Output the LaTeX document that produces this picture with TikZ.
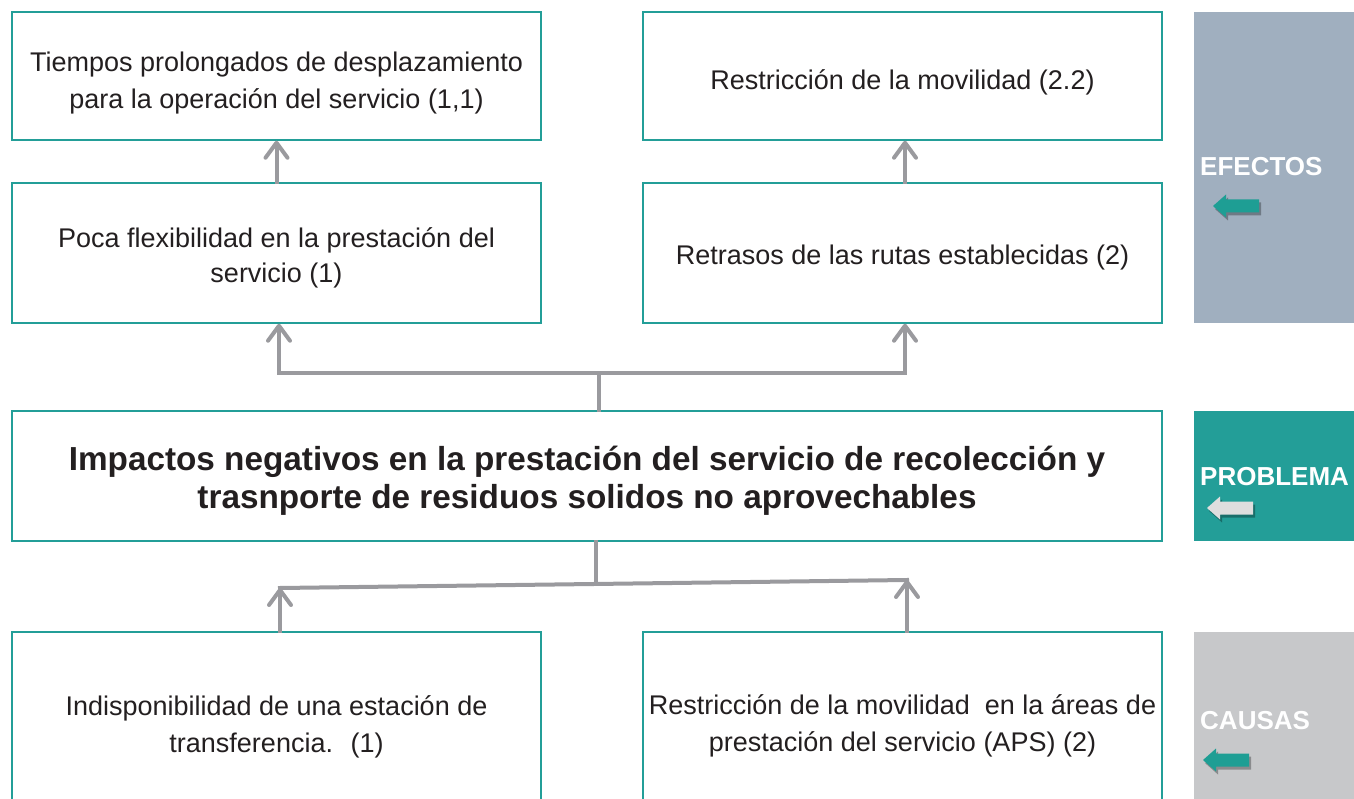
\documentclass[tikz,border=0pt]{standalone}
\usepackage{fontspec}
\setmainfont{Liberation Sans}
\usetikzlibrary{arrows.meta}
\definecolor{teal1}{RGB}{35,158,152}
\definecolor{efc}{RGB}{160,175,191}
\definecolor{cac}{RGB}{199,200,202}
\definecolor{conng}{RGB}{154,154,158}
\definecolor{txt}{RGB}{35,31,32}
\definecolor{arrteal}{RGB}{30,158,148}
\definecolor{arrgray}{RGB}{222,222,222}
\begin{document}
\begin{tikzpicture}[x=1pt,y=-1pt,
  box/.style={draw=teal1, line width=1.5pt, fill=white, inner sep=0pt},
  btext/.style={align=center, text=txt, inner sep=0pt,
    font=\fontsize{27}{37}\selectfont},
  conn/.style={draw=conng, line width=4pt, line cap=rect},
  tipup/.style={-{Straight Barb[length=15pt,width=22pt,round]}},
  side/.style={anchor=west, inner sep=0pt, text=white, font=\fontsize{26}{30}\selectfont\bfseries},
  larrow/.pic={
    \fill[black,opacity=0.3,shift={(2,3)}] (0,0) -- (13,-11.5) -- (13,-6.5) -- (46,-6.5) -- (46,6.5) -- (13,6.5) -- (13,11.5) -- cycle;
    \fill[pic actions] (0,0) -- (13,-11.5) -- (13,-6.5) -- (46,-6.5) -- (46,6.5) -- (13,6.5) -- (13,11.5) -- cycle;
  }]
\clip (0,0) rectangle (1354,799);
\fill[white] (0,0) rectangle (1354,799);

% side panels
\fill[efc] (1194,12) rectangle (1354,323);
\fill[teal1] (1194,411) rectangle (1354,541);
\fill[cac] (1194,632) rectangle (1354,799);
\node[side] (lef) at (1200,167) {EFECTOS};
\node[side] (lpb) at (1200,477) {PROBLEMA};
\node[side] (lca) at (1200,721) {CAUSAS};
\pic[fill=arrteal] at (1213,206) {larrow};
\pic[fill=arrgray] at (1207,508) {larrow};
\pic[fill=arrteal] at (1203,760) {larrow};

% boxes
\node[box, minimum width=529pt, minimum height=128pt] (tl) at (276.5,76) {};
\node[box, minimum width=519pt, minimum height=128pt] (tr) at (902.5,76) {};
\node[box, minimum width=529pt, minimum height=140pt] (ml) at (276.5,253) {};
\node[box, minimum width=519pt, minimum height=140pt] (mr) at (902.5,253) {};
\node[box, minimum width=1150pt, minimum height=130pt] (pb) at (587,476) {};
\node[box, minimum width=529pt, minimum height=184pt] (bl) at (276.5,724) {};
\node[box, minimum width=519pt, minimum height=184pt] (br) at (902.5,724) {};

% texts
\node[btext] (tlt) at ([yshift=-7pt]tl.center)
  {Tiempos prolongados de desplazamiento\\para la operación del servicio (1,1)};
\node[btext] (trt) at ([yshift=-6pt]tr.center)
  {Restricción de la movilidad (2.2)};
\node[btext, font=\fontsize{27}{35}\selectfont] (mlt) at ([yshift=-5pt]ml.center)
  {Poca flexibilidad en la prestación del\\servicio (1)};
\node[btext] (mrt) at ([yshift=-5pt]mr.center)
  {Retrasos de las rutas establecidas (2)};
\node[btext, font=\fontsize{33.3}{38}\selectfont\bfseries] (pbt) at ([yshift=-5pt]pb.center)
  {Impactos negativos en la prestación del servicio de recolección y\\trasnporte de residuos solidos no aprovechables};
\node[btext] (blt) at ([yshift=-3pt]bl.center)
  {Indisponibilidad de una estación de\\transferencia.~ (1)};
\node[btext] (brt) at ([yshift=-2pt]br.center)
  {Restricción de la movilidad~ en la áreas de\\prestación del servicio (APS) (2)};

% upper connectors
\coordinate (uL) at (279,373);
\coordinate (uR) at (905,373);
\coordinate (uM) at (599,373);
\draw[conn] (uL) -- (uR);
\draw[conn] (pb.north -| uM) -- (uM);
\draw[conn, tipup] (uL) -- (ml.south -| uL);
\draw[conn, tipup] (uR) -- (mr.south -| uR);
\draw[conn, tipup] (ml.north) -- (tl.south);
\draw[conn, tipup] (mr.north -| uR) -- (tr.south -| uR);

% lower connectors
\coordinate (dM) at (596,584);
\coordinate (dL) at (280,588);
\coordinate (dR) at (907,580);
\draw[conn] (pb.south -| dM) -- (dM);
\draw[conn] (dL) -- (dR);
\draw[conn, tipup] (bl.north -| dL) -- (dL);
\draw[conn, tipup] (br.north -| dR) -- (dR);
\end{tikzpicture}
\end{document}
